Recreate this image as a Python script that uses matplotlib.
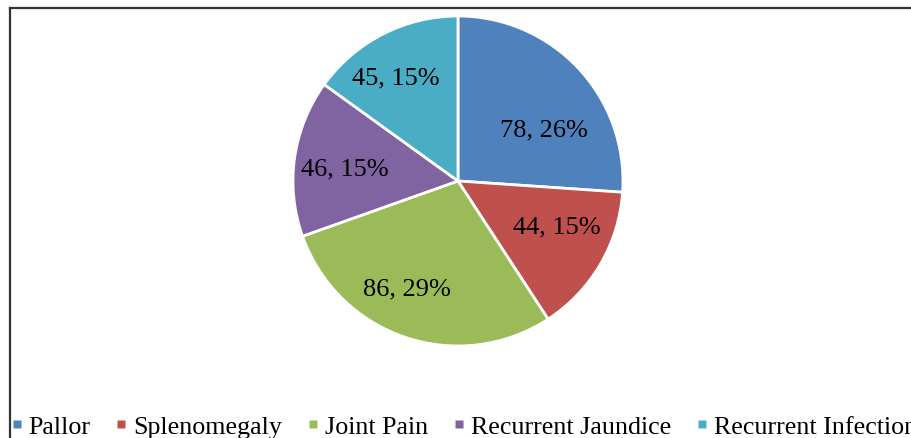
import numpy as np
import matplotlib.pyplot as plt
from matplotlib.lines import Line2D

labels = ['Pallor', 'Splenomegaly', 'Joint Pain', 'Recurrent Jaundice', 'Recurrent Infection']
values = [78, 44, 86, 46, 45]
colors = ['#4F81BD', '#C0504D', '#9BBB59', '#8064A2', '#4BACC6']

plt.rcParams['font.family'] = ['Liberation Serif', 'DejaVu Serif']

fig = plt.figure(figsize=(9.11, 4.39), dpi=100)
ax = fig.add_axes([0.3216, 0.2096, 0.3622, 0.7517])

total = sum(values)


def fmt(v):
    return f'{v}, {v * 100.0 / total:.0f}%'


wedges, texts = ax.pie(values, colors=colors, startangle=90, counterclock=False,
                       wedgeprops=dict(edgecolor='white', linewidth=2),
                       labels=[fmt(v) for v in values],
                       labeldistance=0.68,
                       textprops=dict(fontsize=19, ha='center', va='center'))

# nudge labels like Excel's best-fit placement (radius, angle shift in degrees)
lab_r = [0.61, 0.66, 0.72, 0.69, 0.73]
lab_shift = [-12, 6, -7, 2, 4]
for w, t, r, s in zip(wedges, texts, lab_r, lab_shift):
    a = np.deg2rad((w.theta1 + w.theta2) / 2 + s)
    t.set_position((r * np.cos(a), r * np.sin(a)))
    t.set_horizontalalignment('center')

ax.set_xlim(-1.0, 1.0)
ax.set_ylim(-1.0, 1.0)
ax.set_aspect('equal')

handles = [Line2D([], [], marker='s', linestyle='none', markersize=5.5,
                  markerfacecolor=c, markeredgecolor='none') for c in colors]
fig.legend(handles, labels, loc='center left', bbox_to_anchor=(0.0025, 0.027),
           ncol=5, frameon=False, fontsize=18.7, handlelength=0.3,
           handletextpad=0.3, columnspacing=1.05, borderaxespad=0)

# chart frame (cut at right and bottom)
fig.add_artist(Line2D([9.5 / 911, 9.5 / 911], [0, 1 - 9 / 439], transform=fig.transFigure,
                      color='#333333', linewidth=1.6))
fig.add_artist(Line2D([9.5 / 911, 1], [1 - 9 / 439, 1 - 9 / 439], transform=fig.transFigure,
                      color='#333333', linewidth=1.6))

fig.savefig('out.png', dpi=100)
